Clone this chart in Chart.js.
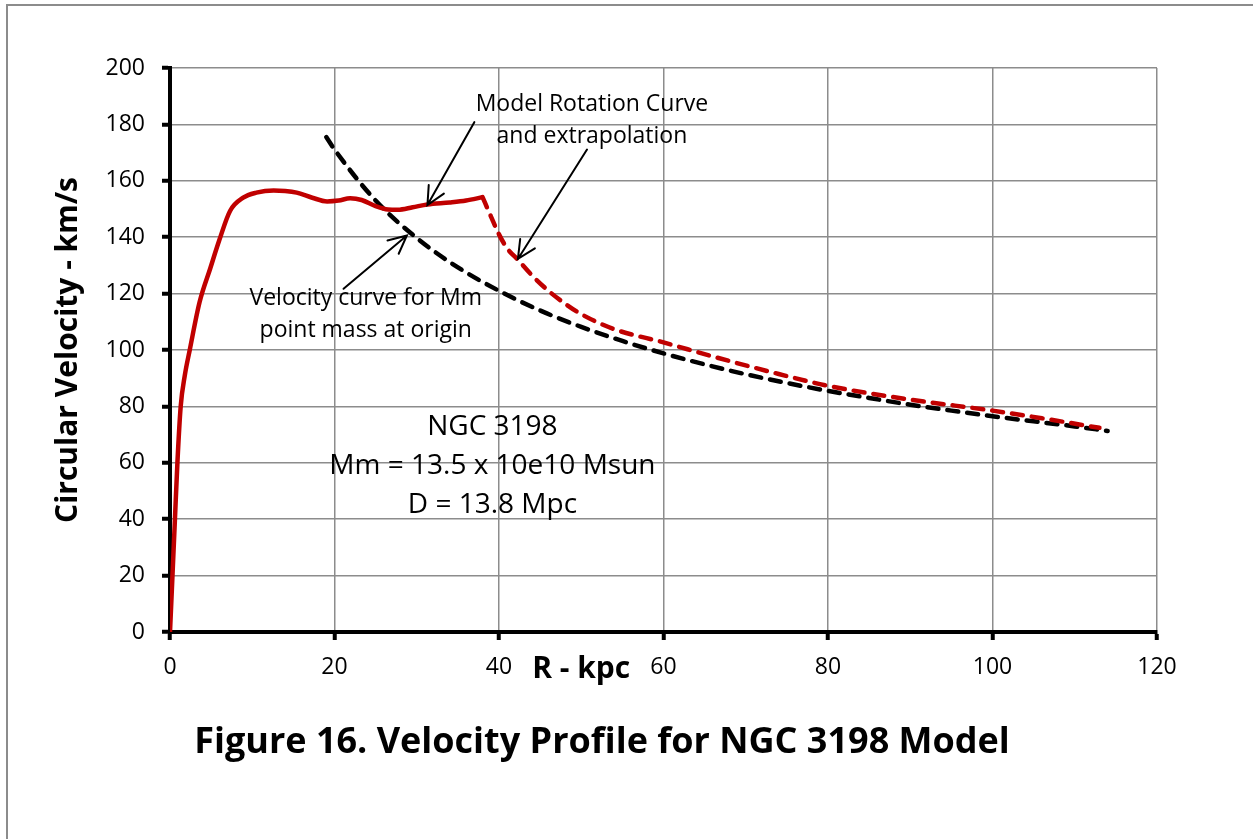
<!DOCTYPE html>
<html>
<head>
<meta charset="utf-8">
<script src="https://cdn.jsdelivr.net/npm/chart.js@4.4.1/dist/chart.umd.min.js"></script>
<style>
  html, body { margin: 0; padding: 0; background: #fff; }
  #frame {
    position: absolute; left: 0; top: 0; width: 1253px; height: 839px;
  }
  #edge {
    position: absolute; left: 6px; top: 4px; width: 1246px; height: 835px;
    border-left: 2px solid #8c8c8c; border-top: 2px solid #8c8c8c;
    pointer-events: none;
  }
</style>
</head>
<body>
<div id="frame">
  <canvas id="grafico" width="1253" height="839"></canvas>
  <div id="edge"></div>
</div>
<script>
// Model rotation curve (solid red)
const rotR = [0, 0.3, 0.6, 0.9, 1.3, 1.8, 2.4, 3.6, 4.9, 6.0, 7.3, 8.9, 10.5, 12.6, 14.0, 15.4, 17.3, 19.1, 20.5, 21.9, 23.3, 25.0, 26.5, 27.7, 29.5, 31.3, 34.0, 36.0, 38.0];
const rotV = [0, 20, 40, 60, 80, 91, 100, 117, 129, 139, 149.3, 154, 155.8, 156.6, 156.4, 155.8, 154, 152.7, 153, 153.8, 153.2, 151, 149.8, 149.7, 150.6, 151.6, 152.3, 153, 154.2];

// Extrapolation (dashed red)
const extR = [38.0, 39.0, 40.0, 41.0, 42.3, 44.0, 46.0, 48.0, 50.0, 54.0, 60.0, 66.0, 74.0, 80.0, 90.0, 100.0, 106.0, 113.0];
const extV = [154.2, 147.5, 141, 136, 132, 126.5, 121, 116.5, 112.7, 107.4, 102.7, 97.7, 91.5, 87.3, 82.4, 78.5, 75.8, 72.4];

// Point mass Mm at origin (dashed black)
const massR = [19, 20, 25, 30, 35, 40, 45, 50, 55, 60, 65, 70, 75, 80, 85, 90, 95, 100, 105, 110, 114];
const massV = [175.5, 171.1, 153, 139.7, 129.3, 121, 114, 108.2, 103.2, 98.8, 94.9, 91.4, 88.3, 85.5, 83, 80.6, 78.5, 76.5, 74.7, 72.9, 71.3];

const xTicks = [0, 20, 40, 60, 80, 100, 120];
const yTicks = [0, 20, 40, 60, 80, 100, 120, 140, 160, 180, 200];

const FONT = "'Open Sans', 'Noto Sans', sans-serif";

function puntos(xs, ys) {
    return xs.map((x, i) => ({ x: x, y: ys[i] }));
}

// textos y flechas (en coordenadas de datos)
const notas = [
    { t: "Model Rotation Curve", x: 51.3, y: 187.2, size: 23 },
    { t: "and extrapolation", x: 51.3, y: 175.6, size: 23 },
    { t: "Velocity curve for Mm", x: 23.8, y: 118.3, size: 23 },
    { t: "point mass at origin", x: 23.8, y: 107.0, size: 23 },
    { t: "NGC 3198", x: 39.2, y: 72.6, size: 28 },
    { t: "Mm = 13.5 x 10e10 Msun", x: 39.2, y: 59.0, size: 28 },
    { t: "D = 13.8 Mpc", x: 39.2, y: 45.0, size: 28 }
];
const flechas = [
    { x0: 37.0, y0: 180.8, x1: 31.3, y1: 151.4 },
    { x0: 50.7, y0: 171.1, x1: 42.3, y1: 132.3 },
    { x0: 21.1, y0: 121.7, x1: 28.8, y1: 140.6 }
];

const extras = {
    id: 'extras',
    afterDatasetsDraw(chart) {
        const { ctx, chartArea: a, scales: { x, y } } = chart;
        ctx.save();
        ctx.fillStyle = '#000';
        ctx.textAlign = 'center';
        ctx.textBaseline = 'middle';

        notas.forEach(n => {
            ctx.font = n.size + "px " + FONT;
            ctx.fillText(n.t, x.getPixelForValue(n.x), y.getPixelForValue(n.y));
        });

        ctx.strokeStyle = '#000';
        ctx.lineWidth = 2;
        ctx.lineCap = 'round';
        flechas.forEach(f => {
            const ax = x.getPixelForValue(f.x0), ay = y.getPixelForValue(f.y0);
            const bx = x.getPixelForValue(f.x1), by = y.getPixelForValue(f.y1);
            const ang = Math.atan2(by - ay, bx - ax);
            const L = 20, w = 0.45;
            ctx.beginPath();
            ctx.moveTo(ax, ay);
            ctx.lineTo(bx, by);
            ctx.moveTo(bx - L * Math.cos(ang - w), by - L * Math.sin(ang - w));
            ctx.lineTo(bx, by);
            ctx.lineTo(bx - L * Math.cos(ang + w), by - L * Math.sin(ang + w));
            ctx.stroke();
        });

        // titulos de ejes y figura
        ctx.font = "bold 30px " + FONT;
        ctx.fillText("R - kpc", x.getPixelForValue(50), a.bottom + 37);

        ctx.save();
        ctx.translate(68, (a.top + a.bottom) / 2);
        ctx.rotate(-Math.PI / 2);
        ctx.fillText("Circular Velocity - km/s", 0, 0);
        ctx.restore();

        ctx.font = "bold 36px " + FONT;
        ctx.fillText("Figure 16. Velocity Profile for NGC 3198 Model", 602, 743);
        ctx.restore();
    }
};

const ctx = document.getElementById('grafico').getContext('2d');

new Chart(ctx, {
    type: 'line',
    plugins: [extras],
    data: {
        datasets: [
            {
                label: 'Model rotation curve',
                data: puntos(rotR, rotV),
                borderColor: '#c00000',
                borderWidth: 4.5,
                cubicInterpolationMode: 'monotone',
                pointRadius: 0
            },
            {
                label: 'Extrapolation',
                data: puntos(extR, extV),
                borderColor: '#c00000',
                borderWidth: 4.5,
                borderDash: [11, 9],
                borderCapStyle: 'round',
                cubicInterpolationMode: 'monotone',
                pointRadius: 0
            },
            {
                label: 'Point mass',
                data: puntos(massR, massV),
                borderColor: '#000',
                borderWidth: 4.5,
                borderDash: [11, 9],
                borderCapStyle: 'round',
                cubicInterpolationMode: 'monotone',
                pointRadius: 0
            }
        ]
    },
    options: {
        responsive: false,
        animation: false,
        layout: { padding: { left: 0, top: 68, right: 96, bottom: 0 } },
        plugins: {
            legend: { display: false },
            tooltip: { enabled: false }
        },
        scales: {
            x: {
                type: 'linear',
                min: 0,
                max: 120,
                afterBuildTicks: s => { s.ticks = xTicks.map(v => ({ value: v })); },
                afterFit: s => { s.height = 839 - 632; },
                grid: { color: '#8c8c8c', lineWidth: 1.5, tickLength: 8, tickColor: '#000', tickWidth: 4 },
                border: { color: '#000', width: 4 },
                ticks: { color: '#000', padding: 14, maxRotation: 0, font: { family: FONT, size: 23 } }
            },
            y: {
                type: 'linear',
                min: 0,
                max: 200,
                afterBuildTicks: s => { s.ticks = yTicks.map(v => ({ value: v })); },
                afterFit: s => { s.width = 170; },
                grid: { color: '#8c8c8c', lineWidth: 1.5, tickLength: 8, tickColor: '#000', tickWidth: 4 },
                border: { color: '#000', width: 4 },
                ticks: { color: '#000', padding: 17, font: { family: FONT, size: 23 } }
            }
        }
    }
});
</script>
</body>
</html>
